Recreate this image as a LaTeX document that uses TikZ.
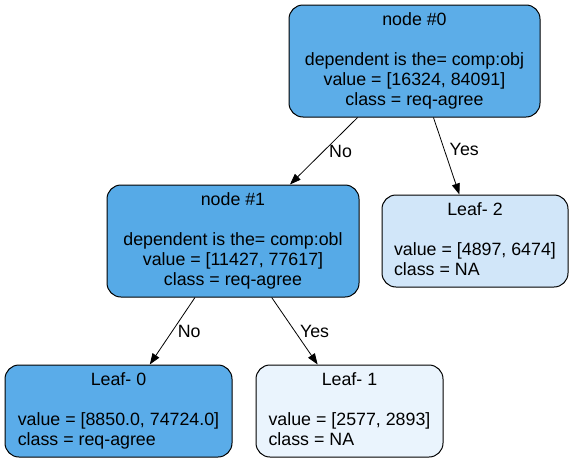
\documentclass[tikz,border=0pt]{standalone}
\usepackage{fontspec}
\setmainfont{Liberation Sans}
\usetikzlibrary{arrows.meta}
\definecolor{rootblue}{HTML}{5CADE8}
\definecolor{midblue}{HTML}{56AAE7}
\definecolor{leafblue}{HTML}{5AACE9}
\definecolor{paleblue}{HTML}{D1E6F9}
\definecolor{faintblue}{HTML}{EAF4FD}
\begin{document}
\begin{tikzpicture}[x=1pt,y=-1pt,
    split/.style={draw=black,line width=1pt,rounded corners=14pt,fill=#1,
        minimum height=112pt,inner sep=0pt,align=center,
        font=\fontsize{17.8}{20}\selectfont},
    leaf/.style={draw=black,line width=1pt,rounded corners=14pt,fill=#1,
        minimum height=92pt,inner sep=0pt,
        font=\fontsize{17.8}{20}\selectfont},
    edge/.style={-{Triangle[length=11pt,width=8pt]},line width=0.8pt},
    answer/.style={anchor=west,inner sep=1pt,xshift=4pt,
        font=\fontsize{17.8}{20}\selectfont}]
    \useasboundingbox (0,0) rectangle (575,463);

    % split nodes
    \node[split=rootblue,minimum width=251pt] (n0) at (414.5,61)
        {node \#0\\[20pt]dependent is the= comp:obj\\value = [16324, 84091]\\class = req-agree};
    \node[split=midblue,minimum width=252pt] (n1) at (233,241)
        {node \#1\\[20pt]dependent is the= comp:obl\\value = [11427, 77617]\\class = req-agree};

    % leaves
    \node[leaf=paleblue,minimum width=186pt] (leaf2) at (475,241)
        {\begin{tabular}{@{}l@{}}\multicolumn{1}{@{}c@{}}{Leaf- 2}\\ \\value = [4897, 6474]\\class = NA\end{tabular}};
    \node[leaf=leafblue,minimum width=227pt] (leaf0) at (118.5,411)
        {\begin{tabular}{@{}l@{}}\multicolumn{1}{@{}c@{}}{Leaf- 0}\\ \\value = [8850.0, 74724.0]\\class = req-agree\end{tabular}};
    \node[leaf=faintblue,minimum width=187pt] (leaf1) at (349.5,411)
        {\begin{tabular}{@{}l@{}}\multicolumn{1}{@{}c@{}}{Leaf- 1}\\ \\value = [2577, 2893]\\class = NA\end{tabular}};

    \draw[edge] (n0) -- (n1) node[answer,midway] {No};
    \draw[edge] (n0) -- (leaf2) node[answer,pos=.42] {Yes};
    \draw[edge] (n1) -- (leaf0) node[answer,midway] {No};
    \draw[edge] (n1) -- (leaf1) node[answer,midway] {Yes};
\end{tikzpicture}
\end{document}
